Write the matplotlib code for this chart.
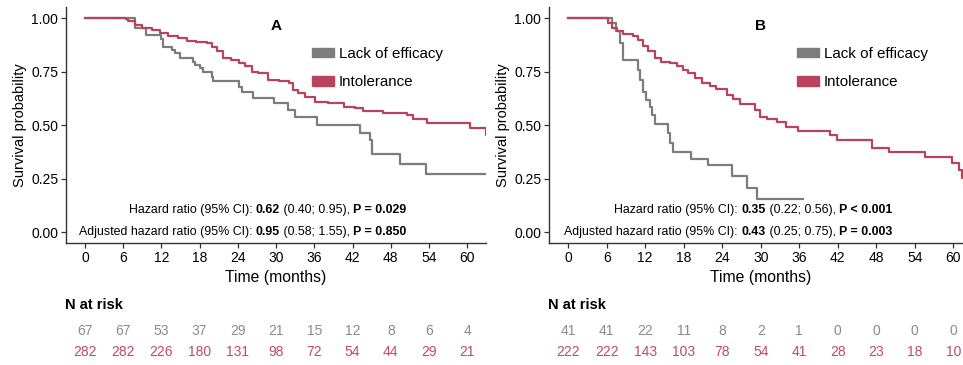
import numpy as np
import matplotlib
matplotlib.use('Agg')
import matplotlib.pyplot as plt
import matplotlib.transforms as mtransforms
from matplotlib.patches import Patch

plt.rcParams['font.family'] = ['Liberation Sans', 'DejaVu Sans']

GRAY = '#7c7c7c'
RED = '#b9425c'
GRAY_TXT = '#8a8a8a'
RED_TXT = '#c04a63'

# ---- panel A: step curves (time in months, survival) ----
a_lack_t = [0, 7.85, 9.6, 12.0, 12.3, 13.6, 14.1, 14.9, 17.0, 17.3, 18.05, 18.6, 19.9, 20.1,
            24.1, 24.6, 26.4, 29.7, 31.9, 33.0, 36.4, 43.2, 44.8, 45.0, 49.5, 53.6, 64]
a_lack_s = [1.0, 0.953, 0.922, 0.90, 0.867, 0.852, 0.836, 0.813, 0.797, 0.78, 0.766, 0.75, 0.727, 0.704,
            0.68, 0.657, 0.626, 0.603, 0.571, 0.537, 0.50, 0.463, 0.431, 0.365, 0.318, 0.273, 0.273]
a_intol_t = [0, 6.5, 6.8, 7.85, 8.9, 10.46, 11.78, 13.1, 14.6, 15.96, 17.5, 19.1, 19.9, 20.7, 21.7,
             23.0, 24.1, 25.1, 26.2, 27.2, 28.8, 30.4, 32.0, 32.7, 33.5, 34.5, 36.1, 38.2, 40.6,
             42.4, 43.7, 46.8, 50.5, 51.5, 53.7, 60.5, 62.9, 64]
a_intol_s = [1.0, 0.995, 0.985, 0.969, 0.953, 0.942, 0.93, 0.917, 0.906, 0.895, 0.888, 0.883, 0.867, 0.844, 0.813,
             0.802, 0.79, 0.774, 0.75, 0.743, 0.712, 0.707, 0.696, 0.665, 0.65, 0.631, 0.61, 0.603, 0.587,
             0.579, 0.568, 0.559, 0.548, 0.528, 0.512, 0.486, 0.455, 0.455]

# ---- panel B ----
b_lack_t = [0, 6.75, 7.5, 8.0, 8.6, 10.9, 11.2, 11.7, 12.2, 12.7, 13.0, 13.5, 15.6, 15.8, 16.4,
            19.2, 21.8, 25.5, 27.8, 29.4, 36.6]
b_lack_s = [1.0, 0.977, 0.938, 0.883, 0.805, 0.759, 0.712, 0.657, 0.618, 0.587, 0.548, 0.506, 0.463, 0.416, 0.377,
            0.341, 0.312, 0.265, 0.206, 0.156, 0.156]
b_intol_t = [0, 6.24, 6.76, 7.54, 8.58, 10.1, 10.9, 11.7, 12.5, 13.5, 14.5, 15.8, 16.9, 17.9, 18.7, 19.7,
             20.8, 22.1, 23.1, 24.7, 25.7, 26.8, 29.1, 29.9, 30.9, 32.5, 34.0, 35.8, 40.8, 41.8, 47.3,
             49.9, 55.6, 59.8, 60.8, 61.3, 64]
b_intol_s = [1.0, 0.977, 0.953, 0.938, 0.925, 0.914, 0.899, 0.868, 0.844, 0.813, 0.797, 0.79, 0.774, 0.759, 0.743, 0.72,
             0.696, 0.681, 0.668, 0.642, 0.623, 0.598, 0.571, 0.54, 0.528, 0.517, 0.493, 0.475, 0.455, 0.431, 0.392,
             0.374, 0.353, 0.322, 0.29, 0.252, 0.252]

risk_times = [0, 6, 12, 18, 24, 30, 36, 42, 48, 54, 60]
a_risk_lack = [67, 67, 53, 37, 29, 21, 15, 12, 8, 6, 4]
a_risk_intol = [282, 282, 226, 180, 131, 98, 72, 54, 44, 29, 21]
b_risk_lack = [41, 41, 22, 11, 8, 2, 1, 0, 0, 0, 0]
b_risk_intol = [222, 222, 143, 103, 78, 54, 41, 28, 23, 18, 10]

# (text, bold) pieces of the hazard ratio lines
a_hr = [('Hazard ratio (95% CI): ', False), ('0.62', True), (' (0.40; 0.95), ', False), ('P = 0.029', True)]
a_ahr = [('Adjusted hazard ratio (95% CI): ', False), ('0.95', True), (' (0.58; 1.55), ', False), ('P = 0.850', True)]
b_hr = [('Hazard ratio (95% CI): ', False), ('0.35', True), (' (0.22; 0.56), ', False), ('P < 0.001', True)]
b_ahr = [('Adjusted hazard ratio (95% CI): ', False), ('0.43', True), (' (0.25; 0.75), ', False), ('P = 0.003', True)]


def RichLine(ax, x, y, parts, fontsize):
    # right-aligned line built from the last piece backwards
    prev = None
    for txt, bold in reversed(parts):
        fw = 'bold' if bold else 'normal'
        if prev is None:
            prev = ax.text(x, y, txt, fontsize=fontsize, fontweight=fw, ha='right', va='center')
        else:
            prev = ax.annotate(txt, xy=(0, 0.5), xycoords=prev, fontsize=fontsize, fontweight=fw,
                               ha='right', va='center')


def PlotPanel(fig, rect, letter, lack_t, lack_s, intol_t, intol_s, risk_lack, risk_intol, hr, ahr):
    ax = fig.add_axes(rect)
    ax.step(lack_t, lack_s, where='post', color=GRAY, linewidth=1.6)
    ax.step(intol_t, intol_s, where='post', color=RED, linewidth=1.6)
    ax.set_xlim(-3, 63)
    ax.set_ylim(-0.05, 1.05)
    ax.set_xticks(risk_times)
    ax.set_yticks([0, 0.25, 0.5, 0.75, 1.0])
    ax.set_yticklabels(['0.00', '0.25', '0.50', '0.75', '1.00'])
    for s in ['top', 'right']:
        ax.spines[s].set_visible(False)
    for s in ['left', 'bottom']:
        ax.spines[s].set_color('#333333')
        ax.spines[s].set_linewidth(1.0)
    ax.tick_params(labelsize=10, length=3.5, width=0.9, color='#333333', pad=2)
    ax.set_xlabel('Time (months)', fontsize=11.3, labelpad=4)
    ax.set_ylabel('Survival probability', fontsize=10.5, labelpad=3)
    ax.text(30, 0.965, letter, fontsize=11, fontweight='bold', ha='center', va='center')

    handles = [Patch(color=GRAY), Patch(color=RED)]
    ax.legend(handles, ['Lack of efficacy', 'Intolerance'], loc='upper left',
              bbox_to_anchor=(0.585, 0.832), frameon=False, fontsize=10.9,
              handlelength=1.45, handleheight=0.6, handletextpad=0.35, labelspacing=0.95,
              borderaxespad=0, borderpad=0)

    RichLine(ax, 50.5, 0.104, hr, 8.9)
    RichLine(ax, 50.5, 0.0, ahr, 8.9)

    trans = mtransforms.blended_transform_factory(ax.transData, fig.transFigure)
    fig.text(-3.2, 0.164, 'N at risk', transform=trans, fontsize=10.5, fontweight='bold',
             ha='left', va='center')
    for t, n1, n2 in zip(risk_times, risk_lack, risk_intol):
        fig.text(t, 0.094, str(n1), transform=trans, fontsize=10, color=GRAY_TXT,
                 ha='center', va='center')
        fig.text(t, 0.036, str(n2), transform=trans, fontsize=10, color=RED_TXT,
                 ha='center', va='center')
    return ax


fig = plt.figure(figsize=(9.63, 3.65), dpi=100)
PlotPanel(fig, [0.0684, 0.334, 0.4366, 0.646], 'A', a_lack_t, a_lack_s, a_intol_t, a_intol_s,
          a_risk_lack, a_risk_intol, a_hr, a_ahr)
PlotPanel(fig, [0.570, 0.334, 0.440, 0.646], 'B', b_lack_t, b_lack_s, b_intol_t, b_intol_s,
          b_risk_lack, b_risk_intol, b_hr, b_ahr)
fig.savefig('out.png', dpi=100)
